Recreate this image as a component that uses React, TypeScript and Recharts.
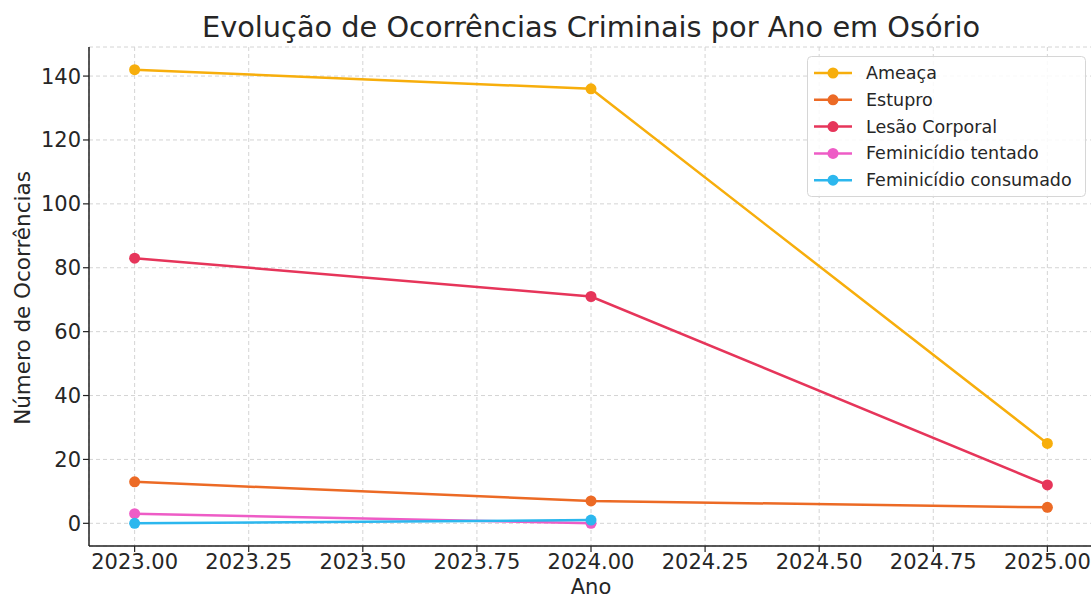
import React from 'react';
import { LineChart, Line, XAxis, YAxis, CartesianGrid, Label } from 'recharts';

const years = [2023, 2024, 2025];
const ameaca = [142, 136, 25];
const estupro = [13, 7, 5];
const lesaoCorporal = [83, 71, 12];
const feminicidioTentado: (number | null)[] = [3, 0, null];
const feminicidioConsumado: (number | null)[] = [0, 1, null];

const xTicks = [2023, 2023.25, 2023.5, 2023.75, 2024, 2024.25, 2024.5, 2024.75, 2025];
const yTicks = [0, 20, 40, 60, 80, 100, 120, 140];

const seriesNames = ['Ameaça', 'Estupro', 'Lesão Corporal', 'Feminicídio tentado', 'Feminicídio consumado'];
const seriesKeys = ['ameaca', 'estupro', 'lesao', 'tentado', 'consumado'];
const seriesColors = ['#F7AE0C', '#EC6A25', '#E6355A', '#EE5CC6', '#2CB7EE'];
const seriesValues = [ameaca, estupro, lesaoCorporal, feminicidioTentado, feminicidioConsumado];

const data = years.map((ano, i) => {
  const row: Record<string, number | null> = { ano };
  seriesKeys.forEach((k, s) => {
    row[k] = seriesValues[s][i];
  });
  return row;
});

const FONT = '"DejaVu Sans", sans-serif';
const TEXT = '#262626';

const YLabel = () => (
  <text
    x={22}
    y={298}
    transform="rotate(-90, 22, 298)"
    textAnchor="middle"
    dominantBaseline="central"
    fontFamily={FONT}
    fontSize={21.5}
    fill={TEXT}
  >
    Número de Ocorrências
  </text>
);

const XLabel = () => (
  <text x={591} y={594} textAnchor="middle" fontFamily={FONT} fontSize={21} fill={TEXT}>
    Ano
  </text>
);

export default function App() {
  return (
    <div style={{ position: 'absolute', left: 0, top: 0, width: 1091, height: 600, overflow: 'hidden', background: '#fff' }}>
      <LineChart
        width={1100}
        height={600}
        data={data}
        margin={{ top: 47, right: 7, bottom: 0, left: 0 }}
      >
        <CartesianGrid stroke="#d4d4d4" strokeDasharray="4 3" strokeWidth={1} />
        <XAxis
          dataKey="ano"
          type="number"
          domain={[2022.9, 2025.1]}
          ticks={xTicks}
          allowDataOverflow
          tickFormatter={(v: number) => v.toFixed(2)}
          height={54}
          tickSize={6}
          tickMargin={2}
          interval={0}
          stroke="#222"
          axisLine={{ stroke: '#222', strokeWidth: 1.5 }}
          tickLine={{ stroke: '#222', strokeWidth: 1.2 }}
          tick={{ fill: TEXT, fontSize: 21, fontFamily: FONT }}
        >
          <Label content={<XLabel />} />
        </XAxis>
        <YAxis
          type="number"
          domain={[-7.1, 149.1]}
          ticks={yTicks}
          allowDataOverflow
          width={89}
          tickSize={6}
          tickMargin={2}
          interval={0}
          stroke="#222"
          axisLine={{ stroke: '#222', strokeWidth: 1.5 }}
          tickLine={{ stroke: '#222', strokeWidth: 1.2 }}
          tick={{ fill: TEXT, fontSize: 21, fontFamily: FONT }}
        >
          <Label content={<YLabel />} />
        </YAxis>
        {seriesKeys.map((k, s) => (
          <Line
            key={k}
            dataKey={k}
            name={seriesNames[s]}
            stroke={seriesColors[s]}
            strokeWidth={2.5}
            dot={{ r: 5.5, fill: seriesColors[s], stroke: 'none' }}
            activeDot={false}
            connectNulls={false}
            isAnimationActive={false}
          />
        ))}
      </LineChart>
      <svg width={1091} height={600} style={{ position: 'absolute', left: 0, top: 0, pointerEvents: 'none' }}>
        <text x={591} y={37} textAnchor="middle" fontFamily={FONT} fontSize={28.8} fill={TEXT}>
          Evolução de Ocorrências Criminais por Ano em Osório
        </text>
        <rect x={807.5} y={56.5} width={278} height={140} rx={4} fill="#ffffff" fillOpacity={0.85} stroke="#d6d6d6" strokeWidth={1} />
        {seriesNames.map((n, s) => {
          const cy = 73 + s * 26.8;
          return (
            <g key={n}>
              <line x1={814} x2={852} y1={cy} y2={cy} stroke={seriesColors[s]} strokeWidth={2.5} />
              <circle cx={833} cy={cy} r={5.5} fill={seriesColors[s]} />
              <text x={866} y={cy} dominantBaseline="central" fontFamily={FONT} fontSize={17.5} fill={TEXT}>
                {n}
              </text>
            </g>
          );
        })}
      </svg>
    </div>
  );
}
